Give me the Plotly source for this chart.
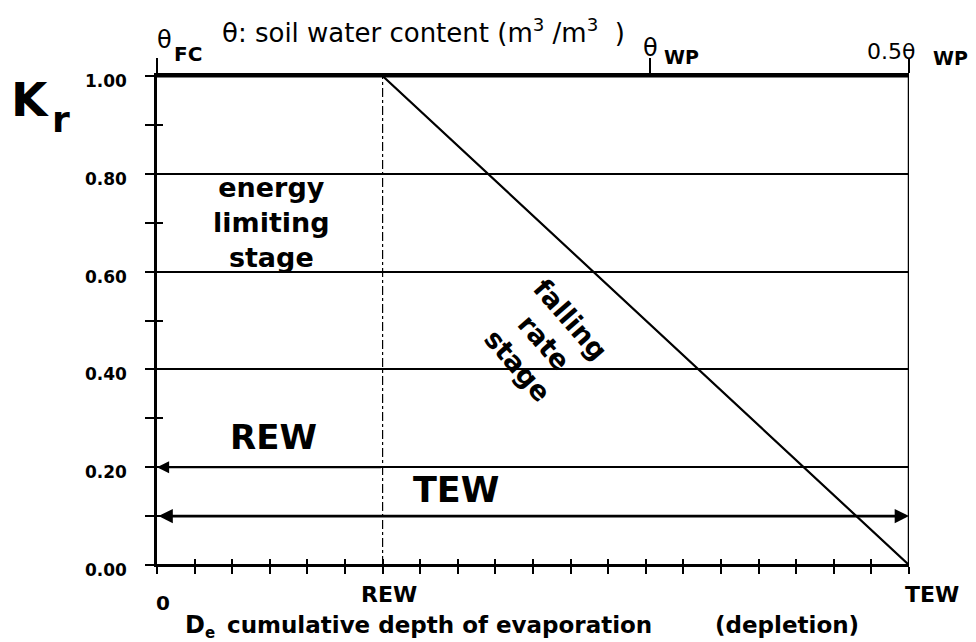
import plotly.graph_objects as go

# ---- data ----
REW = 6.0
TEW = 20.0
THETA_WP = 13.1
kr_x = [0.0, REW, TEW]
kr_y = [1.0, 1.0, 0.0]
y_tick_vals = [0.0, 0.2, 0.4, 0.6, 0.8, 1.0]
y_tick_text = ["0.00", "0.20", "0.40", "0.60", "0.80", "1.00"]
y_minor_vals = [0.1, 0.3, 0.5, 0.7, 0.9]
top_tick_vals = [0.0, THETA_WP, TEW]
rew_arrow_y = 0.2
tew_arrow_y = 0.1

FONT = "DejaVu Sans, sans-serif"

# plot area in page pixels (page has an 8px body margin)
PL, PR, PT, PB = 157, 909, 76, 565


def px(xp):
    return (xp - PL) / (PR - PL)


def py(yp):
    return (PB - yp) / (PB - PT)


fig = go.Figure()

fig.add_trace(go.Scatter(x=[REW, REW], y=[0, 1], mode="lines",
                         line=dict(color="black", width=1.2, dash="dashdot"),
                         showlegend=False, hoverinfo="skip"))
fig.add_trace(go.Scatter(x=kr_x, y=kr_y, mode="lines",
                         line=dict(color="black", width=2.2),
                         showlegend=False, hoverinfo="skip"))
# helper traces so that the extra axes are drawn
fig.add_trace(go.Scatter(x=top_tick_vals, y=[1, 1, 1], xaxis="x2", yaxis="y2",
                         mode="lines", line=dict(color="black", width=3),
                         showlegend=False, hoverinfo="skip"))
fig.add_trace(go.Scatter(x=[0, TEW], y=[0, 0], xaxis="x3", yaxis="y2", mode="lines",
                         line=dict(color="black", width=2),
                         showlegend=False, hoverinfo="skip"))

W, H = 968, 634
fig.update_layout(
    width=W, height=H,
    margin=dict(l=PL - 8, r=W - (PR - 8), t=PT - 8, b=H - (PB - 8)),
    paper_bgcolor="white", plot_bgcolor="white",
    font=dict(family=FONT, color="black"),
    xaxis=dict(range=[0, TEW], showgrid=False, zeroline=False,
               showline=True, linecolor="black", linewidth=2,
               dtick=1, tick0=0, ticks="outside", ticklen=7, tickwidth=1.6,
               tickcolor="black", showticklabels=False, automargin=False),
    xaxis2=dict(range=[0, TEW], overlaying="x", side="top", showgrid=False,
                zeroline=False, showline=True, linecolor="black", linewidth=3,
                tickvals=top_tick_vals, ticks="outside", ticklen=15,
                tickwidth=1.6, tickcolor="black", showticklabels=False,
                automargin=False),
    xaxis3=dict(range=[0, TEW], overlaying="x", side="bottom", showgrid=False,
                zeroline=False, showline=False, dtick=1, tick0=0,
                ticks="inside", ticklen=6, tickwidth=1.6, tickcolor="black",
                showticklabels=False, automargin=False),
    yaxis=dict(range=[0, 1], showgrid=True, gridcolor="black", gridwidth=1.5,
               zeroline=False, showline=True, linecolor="black", linewidth=2.5,
               tickvals=y_tick_vals, ticktext=y_tick_text,
               ticks="outside", ticklen=9, tickwidth=1.6, tickcolor="black",
               ticklabelstandoff=15, ticklabelshift=5, automargin=False,
               tickfont=dict(size=17, family=FONT, color="black", weight="bold"),
               minor=dict(tickvals=y_minor_vals, ticks="outside",
                          ticklen=9, tickwidth=2.2, tickcolor="black", showgrid=False)),
    yaxis2=dict(range=[0, 1], overlaying="y", side="left", showgrid=False,
                zeroline=False, showline=False, tickvals=y_tick_vals,
                ticks="inside", ticklen=6, tickwidth=1.6, tickcolor="black",
                showticklabels=False, automargin=False,
                minor=dict(tickvals=y_minor_vals, ticks="inside", ticklen=6,
                           tickwidth=2.2, tickcolor="black", showgrid=False)),
)

fig.add_shape(type="line", xref="x", yref="y", x0=TEW, x1=TEW, y0=0, y1=1,
              line=dict(color="black", width=2.5))


def label(text, xp, yp, size, bold=False, xanchor="left", **kw):
    t = f"<b>{text}</b>" if bold else text
    d = dict(text=t, xref="paper", yref="paper", x=px(xp), y=py(yp),
             xanchor=xanchor, yanchor="middle", showarrow=False,
             font=dict(size=size, family=FONT, color="black"))
    d.update(kw)
    return d


ann = []
# Kr
ann.append(label("K", 9, 99, 47, bold=True))
ann.append(label("r", 50, 119, 36, bold=True))
# top axis title and theta labels
ann.append(label("θ: soil water content (m<sup>3</sup> /m<sup>3</sup>  )", 220, 31, 26))
ann.append(label("θ", 155, 40, 24))
ann.append(label("FC", 172, 54, 20, bold=True))
ann.append(label("θ", 641, 48, 24))
ann.append(label("WP", 662, 57, 19, bold=True))
ann.append(label("0.5θ", 865, 51, 22))
ann.append(label("WP", 931, 58, 19, bold=True))
# bottom labels
ann.append(label("0", 163, 603, 20, bold=True, xanchor="center"))
ann.append(label("REW", 389, 594, 22, bold=True, xanchor="center"))
ann.append(label("TEW", 932, 594, 22, bold=True, xanchor="center"))
ann.append(label("D", 183, 625, 24, bold=True))
ann.append(label("e", 203, 633, 15, bold=True))
ann.append(label("cumulative depth of evaporation", 225, 625, 23, bold=True))
ann.append(label("(depletion)", 787, 625, 23, bold=True, xanchor="center"))
# inside labels (data coordinates)
ann.append(dict(text="<b>energy<br>limiting<br>stage</b>", xref="x", yref="y",
                x=3.05, y=0.70, xanchor="center", yanchor="middle", showarrow=False,
                font=dict(size=27, family=FONT), align="center"))
ann.append(dict(text="<b>falling<br>rate<br>stage</b>", xref="x", yref="y",
                x=10.3, y=0.455, xanchor="center", yanchor="middle", showarrow=False,
                textangle=49, font=dict(size=27, family=FONT), align="center"))
ann.append(dict(text="<b>REW</b>", xref="x", yref="y", x=3.1, y=0.262,
                xanchor="center", yanchor="middle", showarrow=False,
                font=dict(size=34, family=FONT)))
ann.append(dict(text="<b>TEW</b>", xref="x", yref="y", x=7.95, y=0.153,
                xanchor="center", yanchor="middle", showarrow=False,
                font=dict(size=35, family=FONT)))
# arrows
ann.append(dict(x=0, y=rew_arrow_y, ax=REW, ay=rew_arrow_y, xref="x", yref="y",
                axref="x", ayref="y", text="", showarrow=True, arrowhead=2,
                arrowsize=1.1, arrowwidth=2.2, arrowcolor="black"))
ann.append(dict(x=TEW, y=tew_arrow_y, ax=0, ay=tew_arrow_y, xref="x", yref="y",
                axref="x", ayref="y", text="", showarrow=True, arrowhead=2,
                startarrowhead=2, arrowside="end+start", arrowsize=1.1,
                startarrowsize=1.1, arrowwidth=2.6, arrowcolor="black"))

fig.update_layout(annotations=ann)
fig.write_html("out.html")
